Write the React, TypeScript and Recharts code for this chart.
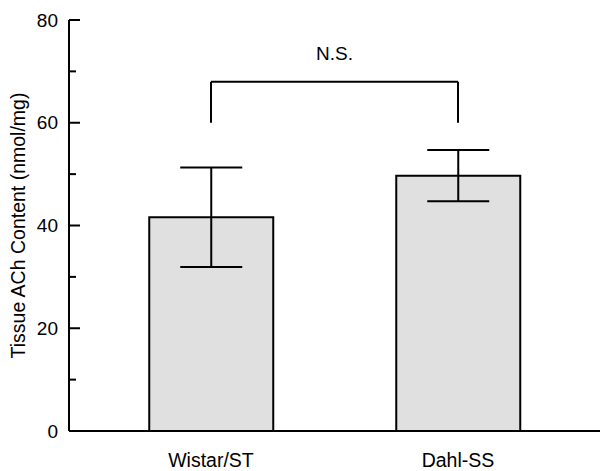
import React from 'react';
import { BarChart, Bar, XAxis, YAxis, ErrorBar, ReferenceLine } from 'recharts';

const categories = ['Wistar/ST', 'Dahl-SS'];
const means = [41.6, 49.7];
const errors = [9.7, 5.0];
const yTicks = [0, 10, 20, 30, 40, 50, 60, 70, 80];
const yMajorTicks = [0, 20, 40, 60, 80];
const bracketBase = 60;
const bracketTop = 68;
const bracketLabel = 'N.S.';
const yAxisTitle = 'Tissue ACh Content (nmol/mg)';

const data = categories.map((c, i) => ({ name: c, value: means[i], err: errors[i] }));

const FONT = '"Liberation Sans", Arial, Helvetica, sans-serif';
const FS = 19;

const YTick = (props: any) => {
  const { x, y, payload } = props;
  const major = yMajorTicks.includes(payload.value);
  return (
    <g>
      <line x1={x} y1={y} x2={x + (major ? 11 : 7)} y2={y} stroke="#000" strokeWidth={2} />
      {major && (
        <text x={x - 11} y={y} dy="0.35em" textAnchor="end" fontSize={FS} fontFamily={FONT} fill="#000">
          {payload.value}
        </text>
      )}
    </g>
  );
};

const YTitle = (props: any) => {
  const vb = props.viewBox || { x: 0, y: 20, width: 69, height: 411 };
  const cx = vb.x + 18;
  const cy = vb.y + vb.height / 2;
  return (
    <text
      x={cx}
      y={cy}
      dy="0.35em"
      textAnchor="middle"
      transform={`rotate(-90, ${cx}, ${cy})`}
      fontSize={19.5}
      fontFamily={FONT}
      fill="#000"
    >
      {yAxisTitle}
    </text>
  );
};

export default function App() {
  return (
    <div style={{ position: 'absolute', left: 0, top: 0, width: 600, height: 471, background: '#fff' }}>
      <BarChart
        width={600}
        height={471}
        data={data}
        margin={{ top: 20, right: 0, bottom: 10, left: 0 }}
        barCategoryGap="25%"
      >
        <XAxis
          dataKey="name"
          height={30}
          axisLine={{ stroke: '#000', strokeWidth: 2 }}
          tickLine={false}
          tickSize={0}
          tickMargin={22}
          padding={{ left: 18.5, right: 18.5 }}
          tick={{ fill: '#000', fontSize: 19.5, fontFamily: FONT }}
        />
        <YAxis
          width={69}
          domain={[0, 80]}
          ticks={yTicks}
          interval={0}
          axisLine={{ stroke: '#000', strokeWidth: 2 }}
          tickLine={false}
          tickSize={0}
          tickMargin={0}
          tick={<YTick />}
          label={<YTitle />}
        />
        <Bar dataKey="value" fill="#e0e0e0" stroke="#000" strokeWidth={2} isAnimationActive={false}>
          <ErrorBar dataKey="err" width={31} stroke="#000" strokeWidth={2} />
        </Bar>
        <ReferenceLine
          segment={[{ x: categories[0], y: bracketBase }, { x: categories[0], y: bracketTop }]}
          stroke="#000"
          strokeWidth={2}
          ifOverflow="visible"
        />
        <ReferenceLine
          segment={[{ x: categories[1], y: bracketBase }, { x: categories[1], y: bracketTop }]}
          stroke="#000"
          strokeWidth={2}
          ifOverflow="visible"
        />
        <ReferenceLine
          segment={[{ x: categories[0], y: bracketTop }, { x: categories[1], y: bracketTop }]}
          stroke="#000"
          strokeWidth={2}
          ifOverflow="visible"
          label={{ value: bracketLabel, position: 'top', offset: 22, fill: '#000', fontSize: FS, fontFamily: FONT }}
        />
      </BarChart>
    </div>
  );
}
